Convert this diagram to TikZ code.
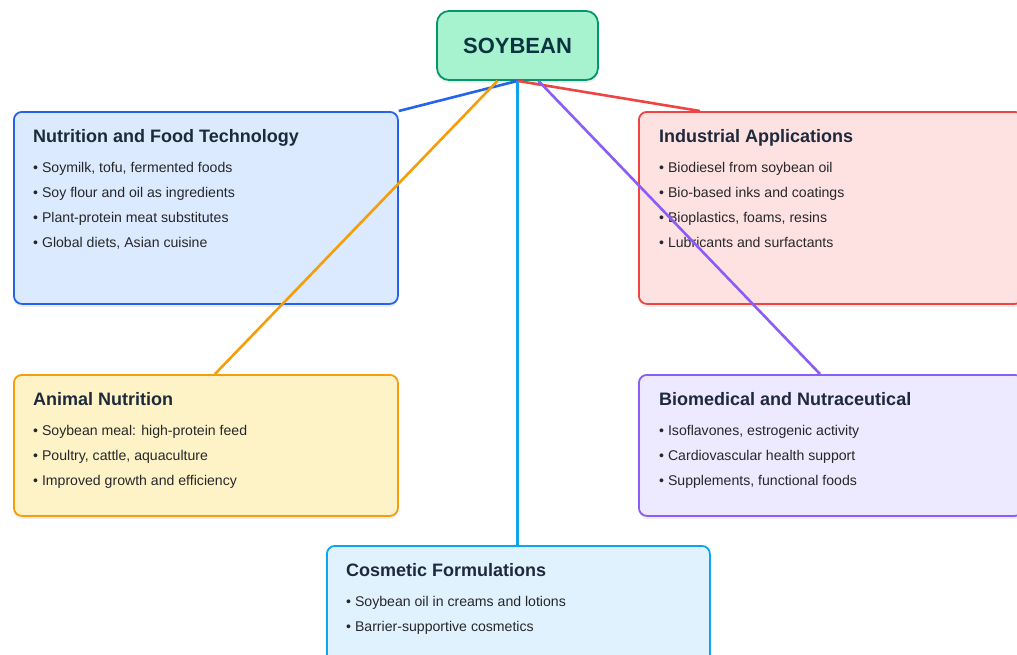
\documentclass[tikz,border=0pt]{standalone}
\usepackage{fontspec}
\setmainfont{Liberation Sans}
\usepackage{xcolor}
\usetikzlibrary{positioning,calc,shadows}

\definecolor{soyfill}{HTML}{A7F3D0}
\definecolor{soyline}{HTML}{059669}
\definecolor{soytext}{HTML}{0B3440}
\definecolor{nutfill}{HTML}{DBEAFE}
\definecolor{nutline}{HTML}{2563EB}
\definecolor{indfill}{HTML}{FEE2E2}
\definecolor{indline}{HTML}{EF4444}
\definecolor{anifill}{HTML}{FEF3C7}
\definecolor{aniline}{HTML}{F59E0B}
\definecolor{biofill}{HTML}{EDE9FE}
\definecolor{bioline}{HTML}{8B5CF6}
\definecolor{cosfill}{HTML}{E0F2FE}
\definecolor{cosline}{HTML}{0EA5E9}
\definecolor{headtext}{HTML}{1E293B}
\definecolor{itemtext}{HTML}{27272A}

\tikzset{
  card/.style={draw, line width=1.8pt, rounded corners=8pt, anchor=north west,
    minimum width=384pt, minimum height=192pt, inner sep=0pt,
    drop shadow={shadow xshift=0pt, shadow yshift=-3pt, opacity=0.07, fill=black}},
  heading/.style={anchor=base west, inner sep=0pt, text=headtext,
    font=\fontsize{18}{21}\selectfont\bfseries},
  item/.style={anchor=base west, inner sep=0pt, text=itemtext,
    font=\fontsize{14.1}{17}\selectfont},
  link/.style={line width=2.6pt},
}

\begin{document}
\begin{tikzpicture}[x=1pt, y=-1pt]

\useasboundingbox (0,0) rectangle (1017,654);

\node [draw=soyline, fill=soyfill, line width=1.8pt, rounded corners=12pt,
  minimum width=161pt, minimum height=69pt, text=soytext,
  font=\fontsize{22}{25}\selectfont\bfseries,
  drop shadow={shadow xshift=0pt, shadow yshift=-3pt, opacity=0.07, fill=black}]
  (soy) at (517.5,45.5) {SOYBEAN};

\node [card, draw=nutline, fill=nutfill] (nutrition) at (13,111) {};
\node [card, draw=indline, fill=indfill] (industrial) at (638,111) {};
\node [card, draw=aniline, fill=anifill, minimum height=141pt] (animal) at (13,374) {};
\node [card, draw=bioline, fill=biofill, minimum height=141pt] (biomed) at (638,374) {};
\node [card, draw=cosline, fill=cosfill, minimum width=383pt, minimum height=141pt] (cosmetic) at (326,545) {};

\node [heading] (nutrition-head) at ($(nutrition.north west)+(20,31)$) {Nutrition and Food Technology};
\node [heading] (industrial-head) at ($(industrial.north west)+(21,31)$) {Industrial Applications};
\node [heading] (animal-head) at ($(animal.north west)+(20,31)$) {Animal Nutrition};
\node [heading] (biomed-head) at ($(biomed.north west)+(21,31)$) {Biomedical and Nutraceutical};
\node [heading] (cosmetic-head) at ($(cosmetic.north west)+(20,31)$) {Cosmetic Formulations};

\foreach \t [count=\i] in {{Soymilk, tofu, fermented foods}, {Soy flour and oil as ingredients},
    {Plant-protein meat substitutes}, {Global diets, Asian cuisine}}
  \node [item] (nutrition-\i) at ($(nutrition.north west)+(20,36+25*\i)$) {\textbullet\ \t};

\foreach \t [count=\i] in {{Biodiesel from soybean oil}, {Bio-based inks and coatings},
    {Bioplastics, foams, resins}, {Lubricants and surfactants}}
  \node [item] (industrial-\i) at ($(industrial.north west)+(21,36+25*\i)$) {\textbullet\ \t};

\foreach \t [count=\i] in {{Soybean meal: high-protein feed}, {Poultry, cattle, aquaculture},
    {Improved growth and efficiency}}
  \node [item] (animal-\i) at ($(animal.north west)+(20,36+25*\i)$) {\textbullet\ \t};

\foreach \t [count=\i] in {{Isoflavones, estrogenic activity}, {Cardiovascular health support},
    {Supplements, functional foods}}
  \node [item] (biomed-\i) at ($(biomed.north west)+(21,36+25*\i)$) {\textbullet\ \t};

\foreach \t [count=\i] in {{Soybean oil in creams and lotions}, {Barrier-supportive cosmetics}}
  \node [item] (cosmetic-\i) at ($(cosmetic.north west)+(20,36+25*\i)$) {\textbullet\ \t};

\draw [link, nutline] (soy.south) -- (nutrition.north east);
\draw [link, indline] (soy.south) -- ($(industrial.north west)+(62,0)$);
\draw [link, aniline] ($(soy.south)+(-20,0)$) -- ($(animal.north west)+(202,0)$);
\draw [link, bioline] ($(soy.south)+(21,0)$) -- ($(biomed.north west)+(182,0)$);
\draw [link, cosline] (soy.south) -- (soy.south |- cosmetic.north);

\end{tikzpicture}
\end{document}
